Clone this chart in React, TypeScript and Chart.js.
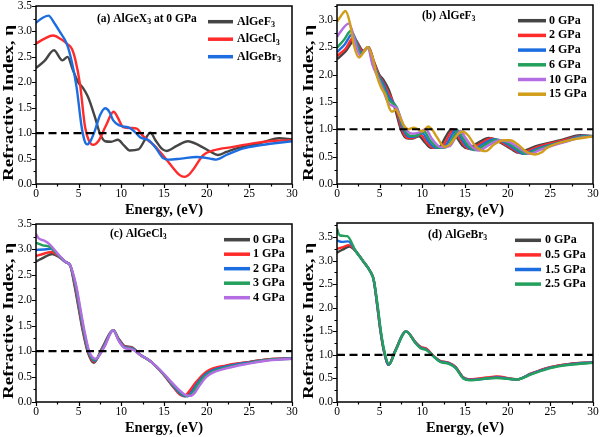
import React, { useEffect, useRef } from 'react';
import { Chart, registerables } from 'chart.js';
Chart.register(...registerables);

const FONT = "'Liberation Serif', 'Times New Roman', Times, serif";
type P = [number, number][];

// ---------- shared axis labels ----------
const xTitle = 'Energy, (eV)';
const yTitle = 'Refractive Index, \u03b7';

// ---------- Panel (a): AlGeX3 at 0 GPa ----------
const aTitle = '(a) AlGeX_3 at 0 GPa';
const aLabels = ['AlGeF_3', 'AlGeCl_3', 'AlGeBr_3'];
const aF3: P = [[0,2.28],[1,2.42],[2.1,2.63],[3.1,2.43],[3.7,2.50],[4.3,2.25],[4.95,2.0],[5.5,1.89],[6.1,1.71],[6.9,1.32],[7.5,0.99],[8.1,0.84],[8.8,0.83],[9.6,0.87],[10.3,0.76],[11,0.66],[12,0.68],[12.8,0.88],[13.4,1.01],[14,0.86],[14.7,0.70],[15.3,0.65],[16.5,0.75],[17.8,0.84],[19,0.77],[20.4,0.64],[21.3,0.57],[22.3,0.63],[23.5,0.70],[26.2,0.80],[28.5,0.90],[30,0.88]];
const aCl3: P = [[0,2.76],[1,2.86],[2.0,2.92],[3,2.84],[3.6,2.76],[4.2,2.66],[4.6,2.45],[5.15,1.97],[5.75,1.12],[6.2,0.85],[6.7,0.77],[7.3,0.84],[8.2,1.15],[9.1,1.42],[9.6,1.3],[10.2,1.12],[11.2,1.1],[11.8,1.09],[12.5,0.95],[13.2,0.85],[13.9,0.75],[14.7,0.6],[16,0.33],[16.8,0.18],[17.4,0.14],[17.9,0.18],[18.4,0.28],[19.6,0.57],[20.8,0.66],[23.1,0.73],[25.4,0.80],[28,0.85],[30,0.86]];
const aBr3: P = [[0,3.17],[0.7,3.26],[1.45,3.31],[2.2,3.15],[2.8,2.99],[3.6,2.76],[4.2,2.4],[4.76,1.9],[5.35,1.12],[5.7,0.85],[6.0,0.78],[6.4,0.85],[6.9,1.05],[7.5,1.35],[8.1,1.49],[8.6,1.42],[9.05,1.25],[9.8,1.15],[11,1.1],[11.6,1.02],[12.2,0.92],[13.2,0.86],[14,0.72],[14.9,0.51],[15.5,0.48],[17,0.50],[18.8,0.53],[20.4,0.50],[21.1,0.48],[22.3,0.57],[24.3,0.70],[26.2,0.76],[30,0.84]];

// ---------- Panel (b): AlGeF3 under pressure ----------
const bTitle = '(b) AlGeF_3';
const bLabels = ['0 GPa', '2 GPa', '4 GPa', '6 GPa', '10 GPa', '15 GPa'];
const bP0: P = [[0,2.28],[1,2.42],[2.1,2.63],[3.1,2.43],[3.7,2.50],[4.3,2.25],[4.95,2.0],[5.5,1.89],[6.1,1.71],[6.9,1.32],[7.5,0.99],[8.1,0.84],[8.8,0.83],[9.6,0.87],[10.3,0.76],[11,0.66],[12,0.68],[12.8,0.88],[13.4,1.0],[14,0.86],[14.7,0.70],[15.3,0.65],[16.5,0.75],[17.8,0.84],[19,0.77],[20.4,0.64],[21.3,0.57],[22.3,0.63],[23.5,0.70],[26.2,0.80],[28.5,0.89],[30,0.88]];
const bP2: P = [[0,2.34],[1,2.47],[1.95,2.68],[3.0,2.42],[3.7,2.50],[4.3,2.24],[4.9,1.99],[5.45,1.85],[6.1,1.65],[6.95,1.36],[7.6,1.0],[8.3,0.84],[9.0,0.85],[9.8,0.9],[10.5,0.76],[11.3,0.66],[12.3,0.68],[13.1,0.88],[13.65,1.0],[14.25,0.86],[14.95,0.70],[15.6,0.64],[16.8,0.74],[18.1,0.83],[19.3,0.76],[20.7,0.63],[21.6,0.56],[22.6,0.62],[23.8,0.69],[26.4,0.79],[28.7,0.88],[30,0.87]];
const bP4: P = [[0,2.41],[0.9,2.55],[1.8,2.74],[2.9,2.40],[3.65,2.50],[4.25,2.22],[4.85,1.98],[5.45,1.82],[6.05,1.60],[7.0,1.38],[7.7,1.02],[8.5,0.86],[9.2,0.87],[10.0,0.93],[10.7,0.78],[11.6,0.66],[12.6,0.68],[13.4,0.88],[13.9,0.99],[14.5,0.85],[15.2,0.69],[15.9,0.63],[17.1,0.73],[18.4,0.82],[19.6,0.76],[21.0,0.62],[21.9,0.55],[22.9,0.61],[24.1,0.68],[26.6,0.78],[28.9,0.88],[30,0.87]];
const bP6: P = [[0,2.49],[0.8,2.63],[1.65,2.80],[2.85,2.38],[3.65,2.50],[4.2,2.2],[4.8,1.97],[5.4,1.78],[6.0,1.55],[7.0,1.40],[7.8,1.03],[8.6,0.88],[9.4,0.89],[10.2,0.96],[10.9,0.80],[11.9,0.66],[12.9,0.68],[13.7,0.88],[14.15,0.98],[14.75,0.84],[15.5,0.68],[16.2,0.62],[17.4,0.72],[18.7,0.81],[19.9,0.76],[21.3,0.62],[22.2,0.55],[23.2,0.61],[24.4,0.68],[26.8,0.78],[29,0.87],[30,0.86]];
const bP10: P = [[0,2.69],[0.6,2.82],[1.35,2.93],[2.75,2.35],[3.6,2.50],[4.15,2.18],[4.75,1.96],[5.35,1.74],[6.0,1.48],[6.5,1.43],[7.0,1.38],[7.9,1.04],[8.8,0.92],[9.6,0.94],[10.4,1.0],[11.1,0.83],[12.2,0.67],[13.2,0.69],[14.0,0.88],[14.45,0.97],[15.1,0.83],[15.9,0.67],[16.6,0.61],[17.8,0.71],[19.1,0.80],[20.3,0.76],[21.7,0.62],[22.6,0.55],[23.6,0.61],[24.8,0.68],[27,0.78],[29.2,0.86],[30,0.86]];
const bP15: P = [[0,2.96],[0.5,3.08],[1.0,3.16],[1.5,2.95],[2.0,2.52],[2.6,2.31],[3.0,2.38],[3.6,2.50],[4.1,2.35],[4.7,1.96],[5.2,1.75],[5.7,1.62],[6.1,1.40],[6.45,1.32],[6.9,1.36],[7.3,1.25],[7.8,1.08],[8.4,1.0],[9.0,1.03],[9.5,1.0],[10,0.96],[10.7,1.05],[11.2,0.98],[11.7,0.86],[12.6,0.68],[13.2,0.72],[14,0.88],[14.7,0.96],[15.3,0.9],[16.3,0.68],[17.4,0.60],[18.4,0.72],[19.5,0.80],[20.3,0.80],[21.2,0.72],[22.3,0.58],[23.2,0.54],[24.0,0.58],[24.6,0.66],[27.3,0.80],[30,0.87]];

// ---------- Panel (c): AlGeCl3 under pressure ----------
const cTitle = '(c) AlGeCl_3';
const cLabels = ['0 GPa', '1 GPa', '2 GPa', '3 GPa', '4 GPa'];
const cP0: P = [[0,2.76],[1,2.85],[1.9,2.91],[2.8,2.84],[3.5,2.75],[4.0,2.69],[4.5,2.3],[5.0,1.84],[5.5,1.38],[6.05,0.99],[6.75,0.77],[7.8,1.08],[9.05,1.41],[9.7,1.24],[10.4,1.10],[11.2,1.08],[12.2,0.93],[13.5,0.79],[14.9,0.55],[16.1,0.30],[17.0,0.15],[17.5,0.12],[18.0,0.2],[18.8,0.38],[20,0.58],[22.3,0.71],[25.1,0.79],[27.4,0.84],[30,0.86]];
const cP1: P = [[0,2.87],[1,2.92],[1.8,2.95],[2.8,2.84],[3.5,2.75],[4.0,2.69],[4.55,2.3],[5.05,1.84],[5.55,1.38],[6.1,0.99],[6.8,0.79],[7.85,1.08],[9.05,1.41],[9.7,1.23],[10.4,1.09],[11.2,1.07],[12.2,0.93],[13.5,0.79],[14.9,0.55],[16.1,0.29],[16.9,0.14],[17.4,0.11],[17.9,0.2],[18.8,0.40],[20,0.60],[22.3,0.72],[25.1,0.79],[27.4,0.84],[30,0.86]];
const cP2: P = [[0,2.99],[0.9,3.0],[1.7,3.01],[2.8,2.85],[3.5,2.75],[4.0,2.69],[4.6,2.3],[5.1,1.84],[5.6,1.38],[6.15,0.99],[6.85,0.81],[7.9,1.08],[9.05,1.41],[9.7,1.22],[10.4,1.08],[11.2,1.06],[12.2,0.93],[13.5,0.79],[14.9,0.56],[16.1,0.31],[17.1,0.14],[17.7,0.11],[18.2,0.18],[18.8,0.34],[20,0.56],[22.3,0.70],[25.1,0.78],[27.4,0.83],[30,0.86]];
const cP3: P = [[0,3.13],[0.8,3.08],[1.6,3.05],[2.8,2.86],[3.5,2.75],[4.0,2.69],[4.65,2.3],[5.15,1.84],[5.65,1.38],[6.2,0.99],[6.9,0.83],[7.95,1.08],[9.05,1.41],[9.7,1.21],[10.4,1.07],[11.2,1.05],[12.2,0.93],[13.5,0.79],[14.9,0.56],[16.1,0.33],[17.3,0.14],[17.9,0.12],[18.4,0.18],[18.8,0.30],[20,0.53],[22.3,0.68],[25.1,0.77],[27.4,0.83],[30,0.85]];
const cP4: P = [[0,3.30],[0.3,3.22],[1.0,3.17],[1.6,3.1],[2.8,2.87],[3.5,2.75],[4.0,2.69],[4.7,2.3],[5.2,1.84],[5.7,1.38],[6.25,0.99],[7.0,0.85],[8.0,1.08],[9.05,1.41],[9.7,1.2],[10.4,1.06],[11.2,1.04],[12.2,0.93],[13.5,0.79],[14.9,0.57],[16.1,0.35],[17.5,0.14],[18.1,0.12],[18.6,0.18],[19.0,0.28],[20,0.50],[22.3,0.66],[25.1,0.76],[27.4,0.82],[30,0.85]];

// ---------- Panel (d): AlGeBr3 under pressure ----------
const dTitle = '(d) AlGeBr_3';
const dLabels = ['0 GPa', '0.5 GPa', '1.5 GPa', '2.5 GPa'];
const dP0: P = [[0,3.17],[0.7,3.24],[1.45,3.30],[2.2,3.2],[3.1,2.98],[3.9,2.77],[4.3,2.59],[4.7,2.07],[5.1,1.5],[5.5,1.08],[6.05,0.79],[6.8,1.08],[8.1,1.5],[9.2,1.26],[9.8,1.16],[10.5,1.12],[11.3,0.98],[12.1,0.87],[13.1,0.83],[13.9,0.74],[14.8,0.52],[15.6,0.48],[17.6,0.51],[18.7,0.53],[21.1,0.48],[22.7,0.60],[25,0.74],[27.3,0.81],[30,0.84]];
const dP05: P = [[0,3.25],[0.7,3.29],[1.4,3.33],[2.2,3.2],[3.1,2.98],[3.9,2.77],[4.3,2.59],[4.7,2.07],[5.1,1.5],[5.5,1.08],[6.05,0.79],[6.8,1.08],[8.1,1.5],[9.2,1.27],[9.8,1.17],[10.5,1.13],[11.3,0.98],[12.1,0.87],[13.1,0.83],[13.9,0.74],[14.8,0.52],[15.6,0.48],[17.6,0.52],[18.7,0.54],[21.1,0.48],[22.7,0.60],[25,0.74],[27.3,0.81],[30,0.84]];
const dP15: P = [[0,3.43],[0.6,3.40],[1.3,3.41],[2.2,3.2],[3.1,2.98],[3.9,2.77],[4.3,2.59],[4.72,2.07],[5.12,1.5],[5.52,1.08],[6.07,0.79],[6.82,1.08],[8.1,1.5],[9.2,1.26],[9.8,1.15],[10.5,1.11],[11.3,0.97],[12.1,0.86],[13.1,0.82],[13.9,0.73],[14.8,0.51],[15.6,0.47],[17.6,0.50],[18.7,0.52],[21.1,0.48],[22.7,0.59],[25,0.73],[27.3,0.80],[30,0.84]];
const dP25: P = [[0,3.68],[0.3,3.54],[1.2,3.52],[2.2,3.2],[3.1,2.98],[3.9,2.77],[4.3,2.6],[4.75,2.07],[5.15,1.5],[5.55,1.08],[6.1,0.80],[6.85,1.08],[8.1,1.5],[9.2,1.25],[9.8,1.14],[10.5,1.10],[11.3,0.97],[12.1,0.85],[13.1,0.81],[13.9,0.72],[14.8,0.50],[15.6,0.46],[17.6,0.50],[18.7,0.51],[21.1,0.48],[22.7,0.58],[25,0.72],[27.3,0.79],[30,0.83]];

const dashLevel: P = [[0,1],[30,1]];

const C = { gray: '#454545', red: '#ff2b2b', blue: '#1c6ee0', green: '#22a05c', violet: '#b46de3', gold: '#d09e1a' };

type Spec = {
  left: number; top: number; w: number; h: number;
  area: { l: number; r: number; t: number; b: number };
  ymax: number; yLabelMax: number;
  series: P[]; colors: string[]; labels: string[];
  title: string; titleX: number; titleY: number;
  legLine: [number, number]; legText: number; legY0: number; legDy: number;
};

const specs: Spec[] = [
  { left: 0, top: 0, w: 300, h: 218, area: { l: 36, r: 292, t: 6, b: 184 }, ymax: 3.5, yLabelMax: 3.5,
    series: [aF3, aCl3, aBr3], colors: [C.gray, C.red, C.blue], labels: aLabels,
    title: aTitle, titleX: 97, titleY: 19, legLine: [208, 233], legText: 237, legY0: 21.7, legDy: 17.5 },
  { left: 300, top: 0, w: 300, h: 218, area: { l: 37, r: 293, t: 5, b: 184 }, ymax: 3.27, yLabelMax: 3.0,
    series: [bP0, bP2, bP4, bP6, bP10, bP15], colors: [C.gray, C.red, C.blue, C.green, C.violet, C.gold], labels: bLabels,
    title: bTitle, titleX: 122, titleY: 16, legLine: [218, 246], legText: 249, legY0: 20.7, legDy: 14.7 },
  { left: 0, top: 218, w: 300, h: 219, area: { l: 36, r: 292, t: 6, b: 184 }, ymax: 3.5, yLabelMax: 3.5,
    series: [cP0, cP1, cP2, cP3, cP4], colors: [C.gray, C.red, C.blue, C.green, C.violet], labels: cLabels,
    title: cTitle, titleX: 110, titleY: 16, legLine: [224, 250], legText: 253, legY0: 21.7, legDy: 14.5 },
  { left: 300, top: 218, w: 300, h: 219, area: { l: 37, r: 293, t: 5, b: 184 }, ymax: 3.8, yLabelMax: 3.5,
    series: [dP0, dP05, dP15, dP25], colors: [C.gray, C.red, C.blue, C.green], labels: dLabels,
    title: dTitle, titleX: 128, titleY: 17, legLine: [215, 241], legText: 245, legY0: 22.3, legDy: 14.6 },
];

function drawRich(ctx: CanvasRenderingContext2D, s: string, x: number, y: number, size: number) {
  const parts = s.split(/(_.)/).filter((p) => p.length > 0);
  let cx = x;
  ctx.textAlign = 'left';
  ctx.textBaseline = 'middle';
  for (const p of parts) {
    if (p[0] === '_') {
      ctx.font = `bold ${size * 0.68}px ${FONT}`;
      ctx.fillText(p.slice(1), cx, y + size * 0.3);
      cx += ctx.measureText(p.slice(1)).width;
    } else {
      ctx.font = `bold ${size}px ${FONT}`;
      ctx.fillText(p, cx, y);
      cx += ctx.measureText(p).width;
    }
  }
}

function makeDecor(spec: Spec) {
  return {
    id: 'decor',
    afterDraw(chart: any) {
      const ctx: CanvasRenderingContext2D = chart.ctx;
      const { left, right, top, bottom } = chart.chartArea;
      const xs = chart.scales.x;
      const ys = chart.scales.y;
      ctx.save();
      ctx.strokeStyle = '#000';
      ctx.fillStyle = '#000';
      ctx.lineWidth = 1.5;
      ctx.strokeRect(left, top, right - left, bottom - top);
      ctx.lineWidth = 1.2;
      ctx.beginPath();
      for (let i = 0; i <= 12; i++) {
        const v = i * 2.5;
        const px = Math.round(xs.getPixelForValue(v)) + 0.5;
        const len = i % 2 === 0 ? 4 : 2.5;
        ctx.moveTo(px, bottom);
        ctx.lineTo(px, bottom + len);
      }
      for (let i = 0; i * 0.25 <= spec.ymax + 1e-9; i++) {
        const v = i * 0.25;
        const py = Math.round(ys.getPixelForValue(v)) + 0.5;
        const len = i % 2 === 0 ? 4 : 2.5;
        ctx.moveTo(left, py);
        ctx.lineTo(left - len, py);
      }
      ctx.stroke();

      // axis titles
      ctx.textAlign = 'center';
      ctx.textBaseline = 'middle';
      ctx.font = `bold 14.5px ${FONT}`;
      ctx.fillText(xTitle, (left + right) / 2, 210);
      ctx.save();
      ctx.translate(9, 103);
      ctx.rotate(-Math.PI / 2);
      ctx.font = `bold 15px ${FONT}`;
      const w = ctx.measureText(yTitle).width;
      ctx.scale(156 / w, 1);
      ctx.fillText(yTitle, 0, 0);
      ctx.restore();

      // panel title
      drawRich(ctx, spec.title, spec.titleX, spec.titleY, 11.5);

      // legend
      spec.labels.forEach((lab, i) => {
        const y = spec.legY0 + i * spec.legDy;
        ctx.strokeStyle = spec.colors[i];
        ctx.lineWidth = 3.5;
        ctx.beginPath();
        ctx.moveTo(spec.legLine[0], y);
        ctx.lineTo(spec.legLine[1], y);
        ctx.stroke();
        ctx.fillStyle = '#000';
        drawRich(ctx, lab, spec.legText, y, 12);
      });
      ctx.restore();
    },
  };
}

function Panel({ spec }: { spec: Spec }) {
  const ref = useRef<HTMLCanvasElement>(null);
  useEffect(() => {
    const datasets: any[] = spec.series.map((s, i) => ({
      data: s.map(([x, y]) => ({ x, y })),
      borderColor: spec.colors[i],
      borderWidth: 2.4,
      pointRadius: 0,
      cubicInterpolationMode: 'monotone',
      fill: false,
      order: -i,
    }));
    datasets.push({
      data: dashLevel.map(([x, y]) => ({ x, y })),
      borderColor: '#000',
      borderWidth: 2.2,
      borderDash: [8, 4.5],
      pointRadius: 0,
      fill: false,
      order: -100,
    });
    const chart = new Chart(ref.current as HTMLCanvasElement, {
      type: 'line',
      data: { datasets },
      options: {
        animation: false,
        responsive: false,
        maintainAspectRatio: false,
        layout: { padding: { left: 0, top: spec.area.t, right: spec.w - spec.area.r, bottom: 0 } },
        plugins: { legend: { display: false }, tooltip: { enabled: false } },
        scales: {
          x: {
            type: 'linear', min: 0, max: 30,
            grid: { display: false, drawTicks: false, tickLength: 0 }, border: { display: false },
            ticks: { stepSize: 5, color: '#000', font: { family: FONT, size: 11.5 }, padding: 3, maxRotation: 0, autoSkip: false, includeBounds: false },
            afterFit: (s: any) => { s.height = spec.h - spec.area.b; s.paddingLeft = 0; s.paddingRight = 0; s.paddingTop = 0; s.paddingBottom = 0; },
          },
          y: {
            type: 'linear', min: 0, max: spec.ymax,
            grid: { display: false, drawTicks: false, tickLength: 0 }, border: { display: false },
            ticks: {
              stepSize: 0.5, color: '#000', font: { family: FONT, size: 11.5 }, padding: 4, includeBounds: false,
              callback: (v: any) => (Math.abs(v * 2 - Math.round(v * 2)) < 1e-6 && v <= spec.yLabelMax + 1e-9 ? Number(v).toFixed(1) : ''),
            },
            afterFit: (s: any) => { s.width = spec.area.l; s.paddingLeft = 0; s.paddingRight = 0; s.paddingTop = 0; s.paddingBottom = 0; },
          },
        },
      } as any,
      plugins: [makeDecor(spec)],
    });
    return () => chart.destroy();
  }, [spec]);
  return (
    <canvas
      ref={ref}
      width={spec.w}
      height={spec.h}
      style={{ position: 'absolute', left: spec.left, top: spec.top, width: spec.w, height: spec.h }}
    />
  );
}

export default function App() {
  return (
    <div style={{ position: 'absolute', left: 0, top: 0, width: 600, height: 437, background: '#fff', overflow: 'hidden' }}>
      {specs.map((s, i) => (
        <Panel key={i} spec={s} />
      ))}
    </div>
  );
}
